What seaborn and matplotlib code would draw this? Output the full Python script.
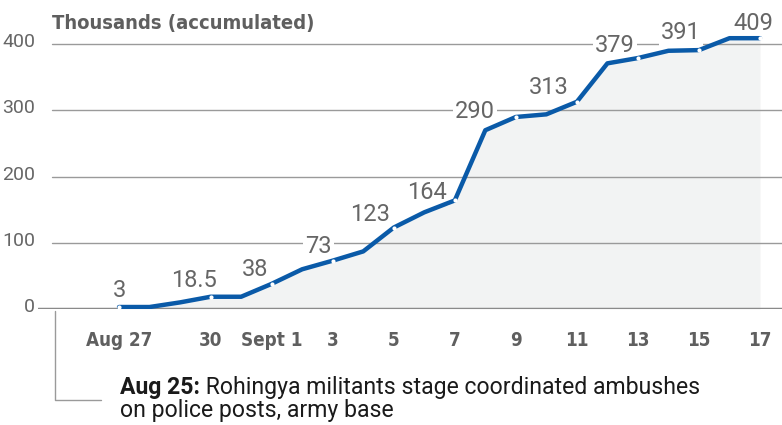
import pandas as pd
import numpy as np
import matplotlib
matplotlib.use("Agg")
import matplotlib.pyplot as plt
from matplotlib.lines import Line2D
from matplotlib import font_manager
from matplotlib.transforms import ScaledTranslation
import seaborn as sns

# Donnees (milliers, cumul)
dates = pd.date_range("2017-08-27", "2017-09-17", freq="D")
refugees = [3, 3, 10, 18.5, 18.5, 38, 60, 73, 87, 123, 146, 164,
            270, 290, 294, 313, 371, 379, 390, 391, 409, 409]

label_dates = ["2017-08-27", "2017-08-30", "2017-09-01", "2017-09-03", "2017-09-05",
               "2017-09-07", "2017-09-09", "2017-09-11", "2017-09-13", "2017-09-15",
               "2017-09-17"]
label_values = [3, 18.5, 38, 73, 123, 164, 290, 313, 379, 391, 409]
label_texts = ["3", "18.5", "38", "73", "123", "164", "290", "313", "379", "391", "409"]

tick_dates = label_dates
tick_labels = ["Aug 27", "30", "Sept 1", "3", "5", "7", "9", "11", "13", "15", "17"]
y_ticks = [0, 100, 200, 300, 400]

title = "Thousands (accumulated)"
note_bold = "Aug 25:"
note_line1 = " Rohingya militants stage coordinated ambushes"
note_line2 = "on police posts, army base"

df = pd.DataFrame({"date": dates, "value": refugees})

sns.set_style("white")
plt.rcParams["font.family"] = ["Roboto", "DejaVu Sans"]

# police condensee pour les axes
cond_fp = font_manager.FontProperties(family="DejaVu Sans", stretch="condensed",
                                      weight="bold")

W, H = 782, 425
fig = plt.figure(figsize=(W / 100, H / 100), dpi=100)
ax = fig.add_axes([38 / W, 1 - 309 / H, 744 / W, (309 - 27.6) / H])

blue = "#0a5aa8"
grey_txt = "#666666"

# aire sous la courbe
ax.fill_between(df["date"], df["value"], 0, color="#f2f3f3", lw=0, zorder=1)

# grille
for v in y_ticks[1:]:
    ax.axhline(v, xmin=14 / 744, xmax=1, color="#9a9a9a", lw=1, zorder=2)
ax.axhline(0, color="#8a8a8a", lw=2.5, zorder=4)

sns.lineplot(data=df, x="date", y="value", ax=ax, color=blue, lw=3.2,
             zorder=5, legend=False)

# points et etiquettes
lab_x = pd.to_datetime(label_dates)
ax.scatter(lab_x, label_values, s=9, color="white", zorder=6, lw=0)
offsets = [(0, 17), (-17, 16), (-17, 14), (-14, 14), (-24, 13), (-28, 8),
           (-41, 5), (-28, 14), (-23, 13), (-18, 18), (-7, 15)]
for x, v, t, off in zip(lab_x, label_values, label_texts, offsets):
    ax.annotate(t, (x, v), xytext=off, textcoords="offset pixels",
                ha="center", va="center", fontsize=17, color=grey_txt,
                zorder=3, bbox=dict(fc="white", ec="none", pad=1.5))

ax.set_xlim(pd.Timestamp("2017-08-25") - pd.Timedelta(days=0.655),
            pd.Timestamp("2017-08-25") + pd.Timedelta(days=23.72))
ax.set_ylim(0, 425)

ax.set_xticks(pd.to_datetime(tick_dates))
ax.set_xticklabels(tick_labels, fontproperties=cond_fp, fontsize=13.5,
                   color="#5f5f5f")
ax.set_yticks(y_ticks)
ax.set_yticklabels([str(v) for v in y_ticks], fontsize=14, color=grey_txt)
ax.tick_params(axis="x", length=10, width=1, color="#8a8a8a", pad=6, direction="out")
ax.tick_params(axis="y", length=0, pad=2)
up = ScaledTranslation(0, 2 / 100, fig.dpi_scale_trans)
for tl in ax.get_yticklabels():
    tl.set_verticalalignment("center")
    tl.set_transform(tl.get_transform() + up)

ax.set_xlabel("")
ax.set_ylabel("")
sns.despine(ax=ax, left=True, bottom=True)

fig.text(52 / W, 1 - 23 / H, title, fontproperties=cond_fp,
         fontsize=14.5, color="#5f5f5f", va="center", ha="left")

# note du 25 aout
fig.add_artist(Line2D([55 / W, 55 / W, 101 / W], [1 - 311 / H, 1 - 400 / H, 1 - 400 / H],
                      transform=fig.transFigure, color="#9a9a9a", lw=1))
t1 = fig.text(120 / W, 1 - 394 / H, note_bold, fontweight="bold", fontsize=16.6,
              color="#1a1a1a", va="baseline", ha="left")
ax.annotate(note_line1, xy=(1, 0), xycoords=t1, va="bottom", ha="left",
            fontsize=16.6, color="#1a1a1a", annotation_clip=False)
fig.text(120 / W, 1 - 417 / H, note_line2, fontsize=16.6, color="#1a1a1a",
         va="baseline", ha="left")

fig.savefig("out.png", dpi=100)
